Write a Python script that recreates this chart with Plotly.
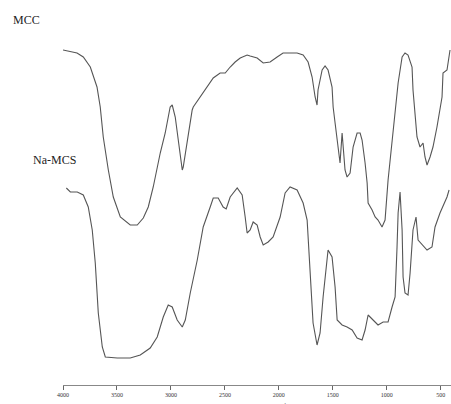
import plotly.graph_objects as go

# FTIR spectra: wavenumber (cm-1) and transmittance (arbitrary units, stacked)
mcc_wavenumber = [4000, 3870, 3812, 3747, 3685, 3655, 3627, 3580, 3534, 3469, 3377, 3312,
                  3256, 3210, 3164, 3099, 3053, 3007, 2988, 2960, 2932, 2895, 2886, 2849,
                  2803, 2793, 2747, 2701, 2664, 2608, 2544, 2497, 2451, 2405, 2358, 2294,
                  2266, 2201, 2145, 2081, 2016, 1961, 1831, 1775, 1729, 1692, 1664, 1646,
                  1637, 1599, 1572, 1544, 1507, 1497, 1479, 1451, 1433, 1414, 1405, 1387,
                  1368, 1340, 1312, 1275, 1247, 1229, 1201, 1182, 1173, 1136, 1108, 1081,
                  1044, 1016, 988, 951, 923, 895, 858, 831, 803, 766, 757, 720, 692, 664,
                  646, 627, 599, 572, 535, 488, 479, 442, 414]
mcc_transmittance = [335, 332, 328, 318, 298, 278, 248, 215, 188, 168, 160, 160,
                     167, 178, 198, 232, 252, 278, 280, 268, 245, 215, 218, 245,
                     275, 278, 285, 292, 298, 307, 312, 312, 318, 323, 327, 330,
                     329, 327, 322, 323, 328, 332, 332, 330, 323, 308, 288, 280,
                     295, 315, 319, 315, 298, 278, 262, 238, 222, 252, 238, 215,
                     208, 212, 238, 252, 252, 245, 222, 202, 182, 175, 168, 165,
                     158, 165, 205, 245, 275, 302, 328, 332, 330, 318, 295, 248, 238, 242,
                     228, 220, 228, 238, 258, 288, 312, 315, 335]

namcs_wavenumber = [3969, 3932, 3868, 3812, 3766, 3729, 3701, 3673, 3636, 3608, 3497, 3377,
                    3284, 3192, 3127, 3071, 3025, 2988, 2942, 2895, 2867, 2821, 2756, 2701,
                    2636, 2608, 2562, 2516, 2488, 2451, 2386, 2340, 2312, 2294, 2266, 2238,
                    2201, 2173, 2145, 2099, 2053, 1988, 1942, 1896, 1831, 1775, 1738, 1710,
                    1683, 1646, 1618, 1590, 1544, 1507, 1479, 1460, 1414, 1368, 1321, 1275,
                    1229, 1201, 1173, 1127, 1081, 1034, 988, 951, 923, 905, 895, 877, 858,
                    849, 831, 803, 784, 757, 729, 710, 673, 627, 581, 553, 507, 442, 423]
namcs_transmittance = [197, 193, 193, 190, 178, 155, 122, 72, 38, 28, 27, 27,
                       30, 37, 48, 68, 80, 78, 65, 58, 65, 92, 125, 158,
                       178, 187, 187, 178, 176, 188, 197, 190, 168, 152, 155, 163,
                       160, 148, 140, 143, 148, 168, 192, 198, 195, 182, 165, 108,
                       62, 40, 52, 88, 135, 128, 98, 65, 60, 58, 55, 47,
                       45, 55, 70, 65, 60, 63, 63, 78, 88, 138, 172, 193, 155,
                       108, 92, 90, 112, 155, 168, 145, 140, 135, 138, 158, 172, 188, 195]

x_ticks = [4000, 3500, 3000, 2500, 2000, 1500, 1000, 500]

line_style = dict(color="#555555", width=1.1)

fig = go.Figure()
fig.add_trace(go.Scatter(x=mcc_wavenumber, y=mcc_transmittance, mode="lines",
                         line=line_style, name="MCC", showlegend=False))
fig.add_trace(go.Scatter(x=namcs_wavenumber, y=namcs_transmittance, mode="lines",
                         line=line_style, name="Na-MCS", showlegend=False))

label_font = dict(family="Liberation Serif", size=12, color="#222222")
fig.add_annotation(text="MCC", xref="paper", yref="paper", x=-0.093, y=0.948,
                   xanchor="center", yanchor="middle", showarrow=False, font=label_font)
fig.add_annotation(text="Na-MCS", xref="paper", yref="paper", x=-0.023, y=0.584,
                   xanchor="center", yanchor="middle", showarrow=False, font=label_font)
fig.add_annotation(text="Wavenumber (cm<sup>-1</sup>)", xref="paper", yref="paper",
                   x=0.5, y=0, xanchor="center", yanchor="top", yshift=-15, showarrow=False,
                   font=dict(family="Liberation Serif", size=8, color="#555555"))

fig.update_layout(
    width=451, height=404,
    margin=dict(l=63, r=0, t=0, b=19),
    paper_bgcolor="white", plot_bgcolor="white",
    xaxis=dict(range=[4000, 405], tickvals=x_ticks, ticktext=[str(v) for v in x_ticks],
               showgrid=False, zeroline=False, showline=True, linecolor="#888888",
               linewidth=1, ticks="outside", ticklen=4, tickcolor="#666666",
               tickfont=dict(family="Liberation Serif", size=6, color="#333333")),
    yaxis=dict(range=[0, 385], visible=False, showgrid=False, zeroline=False),
)

fig.write_html("out.html")
